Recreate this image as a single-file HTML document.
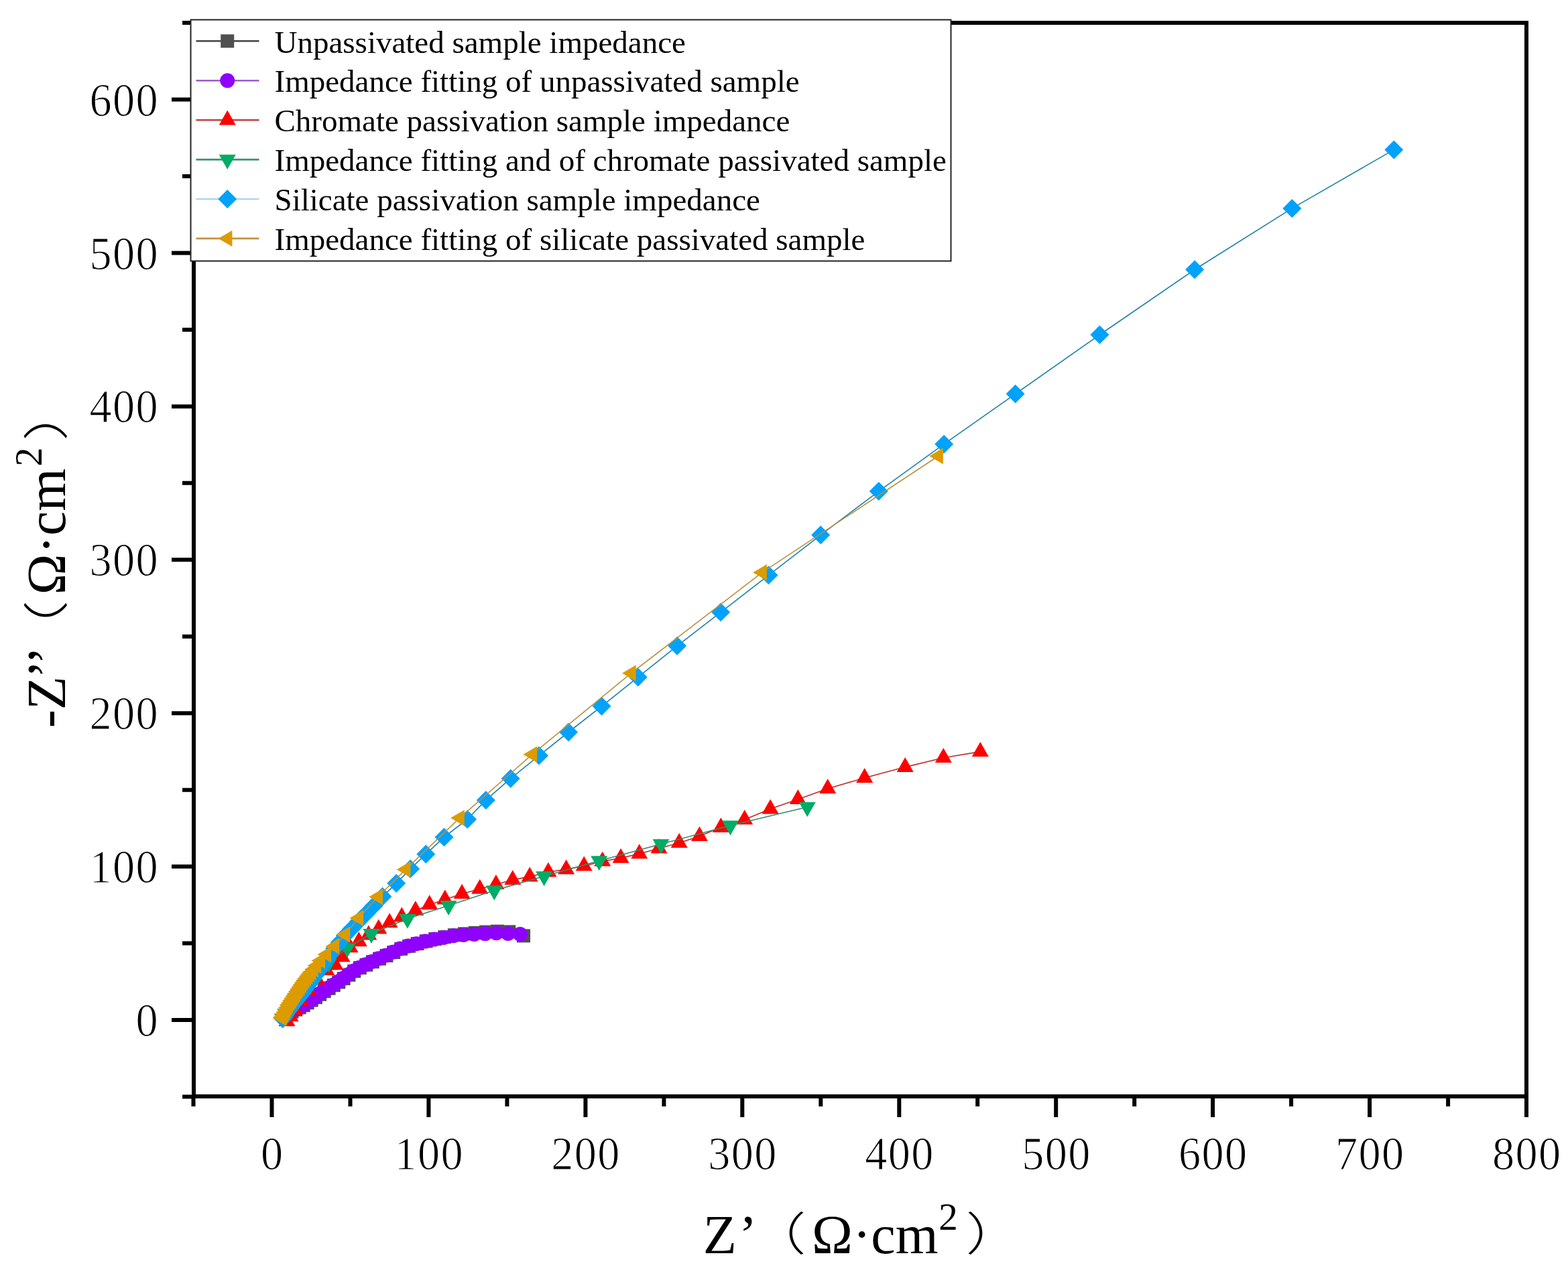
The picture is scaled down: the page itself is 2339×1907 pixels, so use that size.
<!DOCTYPE html><html><head><meta charset="utf-8"><style>html,body{margin:0;padding:0;background:#fff;}svg{display:block;}</style></head><body><svg width="2339" height="1907" viewBox="0 0 2339 1907">
<rect width="2339" height="1907" fill="#ffffff"/>
<g>
<path d="M781.0 1396.4L759.3 1390.4L741.9 1389.7L725.1 1390.6L708.8 1392.0L693.0 1393.4L677.8 1395.3L663.2 1398.2L649.1 1401.1L635.6 1404.4L622.6 1408.1L610.1 1411.8L598.2 1415.9L587.2 1421.1L576.5 1426.0L566.0 1430.6L555.9 1435.2L546.3 1439.8L536.9 1444.2L528.3 1449.2L520.4 1454.8L512.7 1460.2L505.3 1465.5L497.8 1470.2L490.6 1474.8L483.7 1479.2L477.2 1483.8L470.9 1488.3L464.7 1492.5L458.6 1496.4L452.7 1500.2L446.7 1503.4L441.0 1506.6L435.4 1509.7L430.2 1512.9L425.7 1516.2" fill="none" stroke="#404040" stroke-width="1.6" stroke-linejoin="round"/>
<rect x="771.0" y="1386.4" width="20" height="20" fill="#505050"/>
<rect x="749.3" y="1380.4" width="20" height="20" fill="#505050"/>
<rect x="731.9" y="1379.7" width="20" height="20" fill="#505050"/>
<rect x="715.1" y="1380.6" width="20" height="20" fill="#505050"/>
<rect x="698.8" y="1382.0" width="20" height="20" fill="#505050"/>
<rect x="683.0" y="1383.4" width="20" height="20" fill="#505050"/>
<rect x="667.8" y="1385.3" width="20" height="20" fill="#505050"/>
<rect x="653.2" y="1388.2" width="20" height="20" fill="#505050"/>
<rect x="639.1" y="1391.1" width="20" height="20" fill="#505050"/>
<rect x="625.6" y="1394.4" width="20" height="20" fill="#505050"/>
<rect x="612.6" y="1398.1" width="20" height="20" fill="#505050"/>
<rect x="600.1" y="1401.8" width="20" height="20" fill="#505050"/>
<rect x="588.2" y="1405.9" width="20" height="20" fill="#505050"/>
<rect x="577.2" y="1411.1" width="20" height="20" fill="#505050"/>
<rect x="566.5" y="1416.0" width="20" height="20" fill="#505050"/>
<rect x="556.0" y="1420.6" width="20" height="20" fill="#505050"/>
<rect x="545.9" y="1425.2" width="20" height="20" fill="#505050"/>
<rect x="536.3" y="1429.8" width="20" height="20" fill="#505050"/>
<rect x="526.9" y="1434.2" width="20" height="20" fill="#505050"/>
<rect x="518.3" y="1439.2" width="20" height="20" fill="#505050"/>
<rect x="510.4" y="1444.8" width="20" height="20" fill="#505050"/>
<rect x="502.7" y="1450.2" width="20" height="20" fill="#505050"/>
<rect x="495.3" y="1455.5" width="20" height="20" fill="#505050"/>
<rect x="487.8" y="1460.2" width="20" height="20" fill="#505050"/>
<rect x="480.6" y="1464.8" width="20" height="20" fill="#505050"/>
<rect x="473.7" y="1469.2" width="20" height="20" fill="#505050"/>
<rect x="467.2" y="1473.8" width="20" height="20" fill="#505050"/>
<rect x="460.9" y="1478.3" width="20" height="20" fill="#505050"/>
<rect x="454.7" y="1482.5" width="20" height="20" fill="#505050"/>
<rect x="448.6" y="1486.4" width="20" height="20" fill="#505050"/>
<rect x="442.7" y="1490.2" width="20" height="20" fill="#505050"/>
<rect x="436.7" y="1493.4" width="20" height="20" fill="#505050"/>
<rect x="431.0" y="1496.6" width="20" height="20" fill="#505050"/>
<rect x="425.4" y="1499.7" width="20" height="20" fill="#505050"/>
<rect x="420.2" y="1502.9" width="20" height="20" fill="#505050"/>
<rect x="415.7" y="1506.2" width="20" height="20" fill="#505050"/>
<path d="M775.8 1394.0L757.8 1392.9L740.4 1392.2L723.6 1393.1L707.3 1394.0L691.5 1394.9L676.3 1396.2L661.7 1398.9L647.6 1401.6L634.1 1404.6L621.1 1408.2L608.6 1411.6L596.7 1415.6L585.7 1420.8L575.0 1425.7L564.5 1430.3L554.4 1434.9L544.8 1439.5L535.4 1443.9L526.8 1448.9L518.9 1454.5L511.2 1459.9L503.8 1465.2L496.3 1469.9L489.1 1474.5L482.2 1478.9L475.7 1483.5L469.4 1488.0L463.2 1492.2L457.1 1496.1L451.2 1499.9L445.2 1503.1L439.5 1506.3L433.9 1509.4L428.7 1512.6L424.2 1515.9" fill="none" stroke="#8a4ccc" stroke-width="1.6" stroke-linejoin="round"/>
<circle cx="775.8" cy="1394.0" r="11" fill="#9000ff"/>
<circle cx="757.8" cy="1392.9" r="11" fill="#9000ff"/>
<circle cx="740.4" cy="1392.2" r="11" fill="#9000ff"/>
<circle cx="723.6" cy="1393.1" r="11" fill="#9000ff"/>
<circle cx="707.3" cy="1394.0" r="11" fill="#9000ff"/>
<circle cx="691.5" cy="1394.9" r="11" fill="#9000ff"/>
<circle cx="676.3" cy="1396.2" r="11" fill="#9000ff"/>
<circle cx="661.7" cy="1398.9" r="11" fill="#9000ff"/>
<circle cx="647.6" cy="1401.6" r="11" fill="#9000ff"/>
<circle cx="634.1" cy="1404.6" r="11" fill="#9000ff"/>
<circle cx="621.1" cy="1408.2" r="11" fill="#9000ff"/>
<circle cx="608.6" cy="1411.6" r="11" fill="#9000ff"/>
<circle cx="596.7" cy="1415.6" r="11" fill="#9000ff"/>
<circle cx="585.7" cy="1420.8" r="11" fill="#9000ff"/>
<circle cx="575.0" cy="1425.7" r="11" fill="#9000ff"/>
<circle cx="564.5" cy="1430.3" r="11" fill="#9000ff"/>
<circle cx="554.4" cy="1434.9" r="11" fill="#9000ff"/>
<circle cx="544.8" cy="1439.5" r="11" fill="#9000ff"/>
<circle cx="535.4" cy="1443.9" r="11" fill="#9000ff"/>
<circle cx="526.8" cy="1448.9" r="11" fill="#9000ff"/>
<circle cx="518.9" cy="1454.5" r="11" fill="#9000ff"/>
<circle cx="511.2" cy="1459.9" r="11" fill="#9000ff"/>
<circle cx="503.8" cy="1465.2" r="11" fill="#9000ff"/>
<circle cx="496.3" cy="1469.9" r="11" fill="#9000ff"/>
<circle cx="489.1" cy="1474.5" r="11" fill="#9000ff"/>
<circle cx="482.2" cy="1478.9" r="11" fill="#9000ff"/>
<circle cx="475.7" cy="1483.5" r="11" fill="#9000ff"/>
<circle cx="469.4" cy="1488.0" r="11" fill="#9000ff"/>
<circle cx="463.2" cy="1492.2" r="11" fill="#9000ff"/>
<circle cx="457.1" cy="1496.1" r="11" fill="#9000ff"/>
<circle cx="451.2" cy="1499.9" r="11" fill="#9000ff"/>
<circle cx="445.2" cy="1503.1" r="11" fill="#9000ff"/>
<circle cx="439.5" cy="1506.3" r="11" fill="#9000ff"/>
<circle cx="433.9" cy="1509.4" r="11" fill="#9000ff"/>
<circle cx="428.7" cy="1512.6" r="11" fill="#9000ff"/>
<circle cx="424.2" cy="1515.9" r="11" fill="#9000ff"/>
<path d="M1462.3 1121.6L1407.3 1130.7L1350.2 1144.6L1289.7 1160.8L1234.7 1176.7L1190.3 1192.8L1149.1 1207.1L1110.7 1223.0L1075.4 1234.6L1043.4 1247.7L1013.2 1257.8L982.9 1266.0L953.7 1274.0L926.1 1280.4L898.7 1285.3L871.2 1292.2L844.6 1297.1L817.9 1301.3L790.2 1308.1L764.8 1312.9L739.9 1319.7L715.7 1326.4L689.1 1333.7L663.8 1342.3L640.7 1349.9L619.8 1358.8L599.3 1368.1L581.1 1376.9L564.8 1386.2L549.8 1395.1L535.3 1404.9L522.0 1414.0L510.0 1428.0L500.0 1440.0L487.0 1448.0L473.0 1462.0L460.0 1478.0L449.0 1494.0L440.0 1507.0L433.0 1517.0L428.0 1524.0" fill="none" stroke="#c02a2a" stroke-width="1.6" stroke-linejoin="round"/>
<path d="M1462.3 1106.9L1474.8 1128.9L1449.8 1128.9Z" fill="#ff0000"/>
<path d="M1407.3 1116.0L1419.8 1138.0L1394.8 1138.0Z" fill="#ff0000"/>
<path d="M1350.2 1129.9L1362.7 1151.9L1337.7 1151.9Z" fill="#ff0000"/>
<path d="M1289.7 1146.1L1302.2 1168.1L1277.2 1168.1Z" fill="#ff0000"/>
<path d="M1234.7 1162.0L1247.2 1184.0L1222.2 1184.0Z" fill="#ff0000"/>
<path d="M1190.3 1178.1L1202.8 1200.1L1177.8 1200.1Z" fill="#ff0000"/>
<path d="M1149.1 1192.4L1161.6 1214.4L1136.6 1214.4Z" fill="#ff0000"/>
<path d="M1110.7 1208.3L1123.2 1230.3L1098.2 1230.3Z" fill="#ff0000"/>
<path d="M1075.4 1219.9L1087.9 1241.9L1062.9 1241.9Z" fill="#ff0000"/>
<path d="M1043.4 1233.0L1055.9 1255.0L1030.9 1255.0Z" fill="#ff0000"/>
<path d="M1013.2 1243.1L1025.7 1265.1L1000.7 1265.1Z" fill="#ff0000"/>
<path d="M982.9 1251.3L995.4 1273.3L970.4 1273.3Z" fill="#ff0000"/>
<path d="M953.7 1259.3L966.2 1281.3L941.2 1281.3Z" fill="#ff0000"/>
<path d="M926.1 1265.7L938.6 1287.7L913.6 1287.7Z" fill="#ff0000"/>
<path d="M898.7 1270.6L911.2 1292.6L886.2 1292.6Z" fill="#ff0000"/>
<path d="M871.2 1277.5L883.7 1299.5L858.7 1299.5Z" fill="#ff0000"/>
<path d="M844.6 1282.4L857.1 1304.4L832.1 1304.4Z" fill="#ff0000"/>
<path d="M817.9 1286.6L830.4 1308.6L805.4 1308.6Z" fill="#ff0000"/>
<path d="M790.2 1293.4L802.7 1315.4L777.7 1315.4Z" fill="#ff0000"/>
<path d="M764.8 1298.2L777.3 1320.2L752.3 1320.2Z" fill="#ff0000"/>
<path d="M739.9 1305.0L752.4 1327.0L727.4 1327.0Z" fill="#ff0000"/>
<path d="M715.7 1311.7L728.2 1333.7L703.2 1333.7Z" fill="#ff0000"/>
<path d="M689.1 1319.0L701.6 1341.0L676.6 1341.0Z" fill="#ff0000"/>
<path d="M663.8 1327.6L676.3 1349.6L651.3 1349.6Z" fill="#ff0000"/>
<path d="M640.7 1335.2L653.2 1357.2L628.2 1357.2Z" fill="#ff0000"/>
<path d="M619.8 1344.1L632.3 1366.1L607.3 1366.1Z" fill="#ff0000"/>
<path d="M599.3 1353.4L611.8 1375.4L586.8 1375.4Z" fill="#ff0000"/>
<path d="M581.1 1362.2L593.6 1384.2L568.6 1384.2Z" fill="#ff0000"/>
<path d="M564.8 1371.5L577.3 1393.5L552.3 1393.5Z" fill="#ff0000"/>
<path d="M549.8 1380.4L562.3 1402.4L537.3 1402.4Z" fill="#ff0000"/>
<path d="M535.3 1390.2L547.8 1412.2L522.8 1412.2Z" fill="#ff0000"/>
<path d="M522.0 1399.3L534.5 1421.3L509.5 1421.3Z" fill="#ff0000"/>
<path d="M510.0 1413.3L522.5 1435.3L497.5 1435.3Z" fill="#ff0000"/>
<path d="M500.0 1425.3L512.5 1447.3L487.5 1447.3Z" fill="#ff0000"/>
<path d="M487.0 1433.3L499.5 1455.3L474.5 1455.3Z" fill="#ff0000"/>
<path d="M473.0 1447.3L485.5 1469.3L460.5 1469.3Z" fill="#ff0000"/>
<path d="M460.0 1463.3L472.5 1485.3L447.5 1485.3Z" fill="#ff0000"/>
<path d="M449.0 1479.3L461.5 1501.3L436.5 1501.3Z" fill="#ff0000"/>
<path d="M440.0 1492.3L452.5 1514.3L427.5 1514.3Z" fill="#ff0000"/>
<path d="M433.0 1502.3L445.5 1524.3L420.5 1524.3Z" fill="#ff0000"/>
<path d="M428.0 1509.3L440.5 1531.3L415.5 1531.3Z" fill="#ff0000"/>
<path d="M1204.2 1204.3L1089.5 1231.8L986.0 1259.6L893.7 1284.5L811.6 1307.6L737.3 1328.7L669.1 1351.3L607.8 1371.1L553.9 1393.3L518.0 1414.5L490.4 1437.1L468.8 1458.9L451.9 1479.2L437.7 1497.1L425.7 1512.5L421.1 1519.9" fill="none" stroke="#358a6c" stroke-width="1.6" stroke-linejoin="round"/>
<path d="M1204.2 1219.0L1216.7 1197.0L1191.7 1197.0Z" fill="#00ac66"/>
<path d="M1089.5 1246.5L1102.0 1224.5L1077.0 1224.5Z" fill="#00ac66"/>
<path d="M986.0 1274.3L998.5 1252.3L973.5 1252.3Z" fill="#00ac66"/>
<path d="M893.7 1299.2L906.2 1277.2L881.2 1277.2Z" fill="#00ac66"/>
<path d="M811.6 1322.3L824.1 1300.3L799.1 1300.3Z" fill="#00ac66"/>
<path d="M737.3 1343.4L749.8 1321.4L724.8 1321.4Z" fill="#00ac66"/>
<path d="M669.1 1366.0L681.6 1344.0L656.6 1344.0Z" fill="#00ac66"/>
<path d="M607.8 1385.8L620.3 1363.8L595.3 1363.8Z" fill="#00ac66"/>
<path d="M553.9 1408.0L566.4 1386.0L541.4 1386.0Z" fill="#00ac66"/>
<path d="M518.0 1429.2L530.5 1407.2L505.5 1407.2Z" fill="#00ac66"/>
<path d="M490.4 1451.8L502.9 1429.8L477.9 1429.8Z" fill="#00ac66"/>
<path d="M468.8 1473.6L481.3 1451.6L456.3 1451.6Z" fill="#00ac66"/>
<path d="M451.9 1493.9L464.4 1471.9L439.4 1471.9Z" fill="#00ac66"/>
<path d="M437.7 1511.8L450.2 1489.8L425.2 1489.8Z" fill="#00ac66"/>
<path d="M425.7 1527.2L438.2 1505.2L413.2 1505.2Z" fill="#00ac66"/>
<path d="M421.1 1534.6L433.6 1512.6L408.6 1512.6Z" fill="#00ac66"/>
<path d="M2079.3 223.4L1927.4 310.9L1782.1 402.3L1640.4 499.5L1514.6 587.8L1408.2 662.7L1310.8 733.1L1224.2 798.3L1146.5 858.3L1075.1 913.6L1010.1 963.8L951.8 1010.4L897.5 1053.8L848.0 1092.5L804.0 1127.6L761.7 1161.7L724.8 1193.9L697.1 1222.5L662.5 1249.2L635.3 1274.6L612.2 1296.4L591.2 1318.1L570.5 1337.8L557.7 1351.4L545.8 1363.8L534.7 1375.3L524.4 1386.0L514.9 1396.1L506.8 1406.1L499.2 1415.3L492.6 1424.3L486.6 1432.7L481.0 1440.6L475.8 1447.9L471.0 1454.6L466.5 1460.9L462.2 1466.7L458.2 1472.1L454.4 1477.1L451.0 1481.7L447.6 1485.9L444.4 1489.8L441.5 1493.4L438.7 1496.7L436.1 1499.8L433.9 1502.8L431.8 1505.6L429.8 1508.2L428.0 1510.6L426.3 1513.1L424.7 1515.6L423.1 1518.2L422.1 1519.9" fill="none" stroke="#1f80aa" stroke-width="1.6" stroke-linejoin="round"/>
<path d="M2079.3 209.4L2093.3 223.4L2079.3 237.4L2065.3 223.4Z" fill="#00a2fc"/>
<path d="M1927.4 296.9L1941.4 310.9L1927.4 324.9L1913.4 310.9Z" fill="#00a2fc"/>
<path d="M1782.1 388.3L1796.1 402.3L1782.1 416.3L1768.1 402.3Z" fill="#00a2fc"/>
<path d="M1640.4 485.5L1654.4 499.5L1640.4 513.5L1626.4 499.5Z" fill="#00a2fc"/>
<path d="M1514.6 573.8L1528.6 587.8L1514.6 601.8L1500.6 587.8Z" fill="#00a2fc"/>
<path d="M1408.2 648.7L1422.2 662.7L1408.2 676.7L1394.2 662.7Z" fill="#00a2fc"/>
<path d="M1310.8 719.1L1324.8 733.1L1310.8 747.1L1296.8 733.1Z" fill="#00a2fc"/>
<path d="M1224.2 784.3L1238.2 798.3L1224.2 812.3L1210.2 798.3Z" fill="#00a2fc"/>
<path d="M1146.5 844.3L1160.5 858.3L1146.5 872.3L1132.5 858.3Z" fill="#00a2fc"/>
<path d="M1075.1 899.6L1089.1 913.6L1075.1 927.6L1061.1 913.6Z" fill="#00a2fc"/>
<path d="M1010.1 949.8L1024.1 963.8L1010.1 977.8L996.1 963.8Z" fill="#00a2fc"/>
<path d="M951.8 996.4L965.8 1010.4L951.8 1024.4L937.8 1010.4Z" fill="#00a2fc"/>
<path d="M897.5 1039.8L911.5 1053.8L897.5 1067.8L883.5 1053.8Z" fill="#00a2fc"/>
<path d="M848.0 1078.5L862.0 1092.5L848.0 1106.5L834.0 1092.5Z" fill="#00a2fc"/>
<path d="M804.0 1113.6L818.0 1127.6L804.0 1141.6L790.0 1127.6Z" fill="#00a2fc"/>
<path d="M761.7 1147.7L775.7 1161.7L761.7 1175.7L747.7 1161.7Z" fill="#00a2fc"/>
<path d="M724.8 1179.9L738.8 1193.9L724.8 1207.9L710.8 1193.9Z" fill="#00a2fc"/>
<path d="M697.1 1208.5L711.1 1222.5L697.1 1236.5L683.1 1222.5Z" fill="#00a2fc"/>
<path d="M662.5 1235.2L676.5 1249.2L662.5 1263.2L648.5 1249.2Z" fill="#00a2fc"/>
<path d="M635.3 1260.6L649.3 1274.6L635.3 1288.6L621.3 1274.6Z" fill="#00a2fc"/>
<path d="M612.2 1282.4L626.2 1296.4L612.2 1310.4L598.2 1296.4Z" fill="#00a2fc"/>
<path d="M591.2 1304.1L605.2 1318.1L591.2 1332.1L577.2 1318.1Z" fill="#00a2fc"/>
<path d="M570.5 1323.8L584.5 1337.8L570.5 1351.8L556.5 1337.8Z" fill="#00a2fc"/>
<path d="M557.7 1337.4L571.7 1351.4L557.7 1365.4L543.7 1351.4Z" fill="#00a2fc"/>
<path d="M545.8 1349.8L559.8 1363.8L545.8 1377.8L531.8 1363.8Z" fill="#00a2fc"/>
<path d="M534.7 1361.3L548.7 1375.3L534.7 1389.3L520.7 1375.3Z" fill="#00a2fc"/>
<path d="M524.4 1372.0L538.4 1386.0L524.4 1400.0L510.4 1386.0Z" fill="#00a2fc"/>
<path d="M514.9 1382.1L528.9 1396.1L514.9 1410.1L500.9 1396.1Z" fill="#00a2fc"/>
<path d="M506.8 1392.1L520.8 1406.1L506.8 1420.1L492.8 1406.1Z" fill="#00a2fc"/>
<path d="M499.2 1401.3L513.2 1415.3L499.2 1429.3L485.2 1415.3Z" fill="#00a2fc"/>
<path d="M492.6 1410.3L506.6 1424.3L492.6 1438.3L478.6 1424.3Z" fill="#00a2fc"/>
<path d="M486.6 1418.7L500.6 1432.7L486.6 1446.7L472.6 1432.7Z" fill="#00a2fc"/>
<path d="M481.0 1426.6L495.0 1440.6L481.0 1454.6L467.0 1440.6Z" fill="#00a2fc"/>
<path d="M475.8 1433.9L489.8 1447.9L475.8 1461.9L461.8 1447.9Z" fill="#00a2fc"/>
<path d="M471.0 1440.6L485.0 1454.6L471.0 1468.6L457.0 1454.6Z" fill="#00a2fc"/>
<path d="M466.5 1446.9L480.5 1460.9L466.5 1474.9L452.5 1460.9Z" fill="#00a2fc"/>
<path d="M462.2 1452.7L476.2 1466.7L462.2 1480.7L448.2 1466.7Z" fill="#00a2fc"/>
<path d="M458.2 1458.1L472.2 1472.1L458.2 1486.1L444.2 1472.1Z" fill="#00a2fc"/>
<path d="M454.4 1463.1L468.4 1477.1L454.4 1491.1L440.4 1477.1Z" fill="#00a2fc"/>
<path d="M451.0 1467.7L465.0 1481.7L451.0 1495.7L437.0 1481.7Z" fill="#00a2fc"/>
<path d="M447.6 1471.9L461.6 1485.9L447.6 1499.9L433.6 1485.9Z" fill="#00a2fc"/>
<path d="M444.4 1475.8L458.4 1489.8L444.4 1503.8L430.4 1489.8Z" fill="#00a2fc"/>
<path d="M441.5 1479.4L455.5 1493.4L441.5 1507.4L427.5 1493.4Z" fill="#00a2fc"/>
<path d="M438.7 1482.7L452.7 1496.7L438.7 1510.7L424.7 1496.7Z" fill="#00a2fc"/>
<path d="M436.1 1485.8L450.1 1499.8L436.1 1513.8L422.1 1499.8Z" fill="#00a2fc"/>
<path d="M433.9 1488.8L447.9 1502.8L433.9 1516.8L419.9 1502.8Z" fill="#00a2fc"/>
<path d="M431.8 1491.6L445.8 1505.6L431.8 1519.6L417.8 1505.6Z" fill="#00a2fc"/>
<path d="M429.8 1494.2L443.8 1508.2L429.8 1522.2L415.8 1508.2Z" fill="#00a2fc"/>
<path d="M428.0 1496.6L442.0 1510.6L428.0 1524.6L414.0 1510.6Z" fill="#00a2fc"/>
<path d="M426.3 1499.1L440.3 1513.1L426.3 1527.1L412.3 1513.1Z" fill="#00a2fc"/>
<path d="M424.7 1501.6L438.7 1515.6L424.7 1529.6L410.7 1515.6Z" fill="#00a2fc"/>
<path d="M423.1 1504.2L437.1 1518.2L423.1 1532.2L409.1 1518.2Z" fill="#00a2fc"/>
<path d="M422.1 1505.9L436.1 1519.9L422.1 1533.9L408.1 1519.9Z" fill="#00a2fc"/>
<path d="M1399.7 680.5L1136.7 854.3L941.5 1004.5L794.0 1125.7L685.6 1220.6L605.2 1297.4L563.8 1338.3L534.9 1369.9L515.0 1394.6L499.0 1411.9L486.9 1424.3L477.9 1433.6L471.9 1440.9L467.5 1446.4L464.2 1450.5L461.7 1453.6L459.2 1456.7L456.7 1459.9L454.3 1463.0L452.1 1466.4L449.8 1469.7L447.6 1473.0L445.4 1476.3L443.2 1479.6L440.9 1483.0L438.8 1486.3L436.6 1489.7L434.4 1493.1L432.3 1496.4L430.1 1499.8L428.3 1503.4L426.5 1506.9L424.7 1510.5L422.8 1514.0L420.9 1517.5L420.1 1518.9" fill="none" stroke="#b89040" stroke-width="1.6" stroke-linejoin="round"/>
<path d="M1386.2 680.5L1406.9 668.3L1406.9 692.7Z" fill="#dc9c00"/>
<path d="M1123.2 854.3L1143.9 842.1L1143.9 866.5Z" fill="#dc9c00"/>
<path d="M928.0 1004.5L948.7 992.3L948.7 1016.7Z" fill="#dc9c00"/>
<path d="M780.5 1125.7L801.2 1113.5L801.2 1137.9Z" fill="#dc9c00"/>
<path d="M672.1 1220.6L692.8 1208.4L692.8 1232.8Z" fill="#dc9c00"/>
<path d="M591.7 1297.4L612.4 1285.2L612.4 1309.6Z" fill="#dc9c00"/>
<path d="M550.3 1338.3L571.0 1326.1L571.0 1350.5Z" fill="#dc9c00"/>
<path d="M521.4 1369.9L542.1 1357.7L542.1 1382.1Z" fill="#dc9c00"/>
<path d="M501.5 1394.6L522.2 1382.4L522.2 1406.8Z" fill="#dc9c00"/>
<path d="M485.5 1411.9L506.2 1399.7L506.2 1424.1Z" fill="#dc9c00"/>
<path d="M473.4 1424.3L494.1 1412.1L494.1 1436.5Z" fill="#dc9c00"/>
<path d="M464.4 1433.6L485.1 1421.4L485.1 1445.8Z" fill="#dc9c00"/>
<path d="M458.4 1440.9L479.1 1428.7L479.1 1453.1Z" fill="#dc9c00"/>
<path d="M454.0 1446.4L474.7 1434.2L474.7 1458.6Z" fill="#dc9c00"/>
<path d="M450.7 1450.5L471.4 1438.3L471.4 1462.7Z" fill="#dc9c00"/>
<path d="M448.2 1453.6L468.9 1441.4L468.9 1465.8Z" fill="#dc9c00"/>
<path d="M445.7 1456.7L466.4 1444.5L466.4 1468.9Z" fill="#dc9c00"/>
<path d="M443.2 1459.9L463.9 1447.7L463.9 1472.1Z" fill="#dc9c00"/>
<path d="M440.8 1463.0L461.5 1450.8L461.5 1475.2Z" fill="#dc9c00"/>
<path d="M438.6 1466.4L459.3 1454.2L459.3 1478.6Z" fill="#dc9c00"/>
<path d="M436.3 1469.7L457.0 1457.5L457.0 1481.9Z" fill="#dc9c00"/>
<path d="M434.1 1473.0L454.8 1460.8L454.8 1485.2Z" fill="#dc9c00"/>
<path d="M431.9 1476.3L452.6 1464.1L452.6 1488.5Z" fill="#dc9c00"/>
<path d="M429.7 1479.6L450.4 1467.4L450.4 1491.8Z" fill="#dc9c00"/>
<path d="M427.4 1483.0L448.1 1470.8L448.1 1495.2Z" fill="#dc9c00"/>
<path d="M425.3 1486.3L446.0 1474.1L446.0 1498.5Z" fill="#dc9c00"/>
<path d="M423.1 1489.7L443.8 1477.5L443.8 1501.9Z" fill="#dc9c00"/>
<path d="M420.9 1493.1L441.6 1480.9L441.6 1505.3Z" fill="#dc9c00"/>
<path d="M418.8 1496.4L439.5 1484.2L439.5 1508.6Z" fill="#dc9c00"/>
<path d="M416.6 1499.8L437.3 1487.6L437.3 1512.0Z" fill="#dc9c00"/>
<path d="M414.8 1503.4L435.5 1491.2L435.5 1515.6Z" fill="#dc9c00"/>
<path d="M413.0 1506.9L433.7 1494.7L433.7 1519.1Z" fill="#dc9c00"/>
<path d="M411.2 1510.5L431.9 1498.3L431.9 1522.7Z" fill="#dc9c00"/>
<path d="M409.3 1514.0L430.0 1501.8L430.0 1526.2Z" fill="#dc9c00"/>
<path d="M407.4 1517.5L428.1 1505.3L428.1 1529.7Z" fill="#dc9c00"/>
<path d="M406.6 1518.9L427.3 1506.7L427.3 1531.1Z" fill="#dc9c00"/>
</g>
<g stroke="#000" stroke-width="6" fill="none">
<rect x="289" y="34" width="1988" height="1602"/>
<path d="M272 1636.5H289M256 1522.0H289M272 1407.5H289M256 1293.1H289M272 1178.7H289M256 1064.2H289M272 949.8H289M256 835.3H289M272 720.8H289M256 606.4H289M272 492.0H289M256 377.5H289M272 263.0H289M256 148.6H289M272 34.1H289M288.5 1636V1651M405.5 1636V1667M522.5 1636V1651M639.4 1636V1667M756.4 1636V1651M873.4 1636V1667M990.4 1636V1651M1107.3 1636V1667M1224.3 1636V1651M1341.3 1636V1667M1458.2 1636V1651M1575.2 1636V1667M1692.2 1636V1651M1809.1 1636V1667M1926.1 1636V1651M2043.1 1636V1667M2160.1 1636V1651M2277.0 1636V1667" stroke-linecap="butt"/>
</g>
<g font-family="Liberation Serif, Times New Roman, serif" font-size="69" fill="#000" stroke="#fff" stroke-width="1.1">
<text transform="translate(218.95 1546.00) scale(0.96 1)" x="0" y="0" text-anchor="middle">0</text>
<text transform="translate(149.95 1317.10) scale(0.96 1)" x="0" y="0" text-anchor="middle">1</text><text transform="translate(184.45 1317.10) scale(0.96 1)" x="0" y="0" text-anchor="middle">0</text><text transform="translate(218.95 1317.10) scale(0.96 1)" x="0" y="0" text-anchor="middle">0</text>
<text transform="translate(149.95 1088.20) scale(0.96 1)" x="0" y="0" text-anchor="middle">2</text><text transform="translate(184.45 1088.20) scale(0.96 1)" x="0" y="0" text-anchor="middle">0</text><text transform="translate(218.95 1088.20) scale(0.96 1)" x="0" y="0" text-anchor="middle">0</text>
<text transform="translate(149.95 859.30) scale(0.96 1)" x="0" y="0" text-anchor="middle">3</text><text transform="translate(184.45 859.30) scale(0.96 1)" x="0" y="0" text-anchor="middle">0</text><text transform="translate(218.95 859.30) scale(0.96 1)" x="0" y="0" text-anchor="middle">0</text>
<text transform="translate(149.95 630.40) scale(0.96 1)" x="0" y="0" text-anchor="middle">4</text><text transform="translate(184.45 630.40) scale(0.96 1)" x="0" y="0" text-anchor="middle">0</text><text transform="translate(218.95 630.40) scale(0.96 1)" x="0" y="0" text-anchor="middle">0</text>
<text transform="translate(149.95 401.50) scale(0.96 1)" x="0" y="0" text-anchor="middle">5</text><text transform="translate(184.45 401.50) scale(0.96 1)" x="0" y="0" text-anchor="middle">0</text><text transform="translate(218.95 401.50) scale(0.96 1)" x="0" y="0" text-anchor="middle">0</text>
<text transform="translate(149.95 172.60) scale(0.96 1)" x="0" y="0" text-anchor="middle">6</text><text transform="translate(184.45 172.60) scale(0.96 1)" x="0" y="0" text-anchor="middle">0</text><text transform="translate(218.95 172.60) scale(0.96 1)" x="0" y="0" text-anchor="middle">0</text>
<text transform="translate(405.50 1744.50) scale(0.96 1)" x="0" y="0" text-anchor="middle">0</text>
<text transform="translate(604.94 1744.50) scale(0.96 1)" x="0" y="0" text-anchor="middle">1</text><text transform="translate(639.44 1744.50) scale(0.96 1)" x="0" y="0" text-anchor="middle">0</text><text transform="translate(673.94 1744.50) scale(0.96 1)" x="0" y="0" text-anchor="middle">0</text>
<text transform="translate(838.88 1744.50) scale(0.96 1)" x="0" y="0" text-anchor="middle">2</text><text transform="translate(873.38 1744.50) scale(0.96 1)" x="0" y="0" text-anchor="middle">0</text><text transform="translate(907.88 1744.50) scale(0.96 1)" x="0" y="0" text-anchor="middle">0</text>
<text transform="translate(1072.82 1744.50) scale(0.96 1)" x="0" y="0" text-anchor="middle">3</text><text transform="translate(1107.32 1744.50) scale(0.96 1)" x="0" y="0" text-anchor="middle">0</text><text transform="translate(1141.82 1744.50) scale(0.96 1)" x="0" y="0" text-anchor="middle">0</text>
<text transform="translate(1306.76 1744.50) scale(0.96 1)" x="0" y="0" text-anchor="middle">4</text><text transform="translate(1341.26 1744.50) scale(0.96 1)" x="0" y="0" text-anchor="middle">0</text><text transform="translate(1375.76 1744.50) scale(0.96 1)" x="0" y="0" text-anchor="middle">0</text>
<text transform="translate(1540.70 1744.50) scale(0.96 1)" x="0" y="0" text-anchor="middle">5</text><text transform="translate(1575.20 1744.50) scale(0.96 1)" x="0" y="0" text-anchor="middle">0</text><text transform="translate(1609.70 1744.50) scale(0.96 1)" x="0" y="0" text-anchor="middle">0</text>
<text transform="translate(1774.64 1744.50) scale(0.96 1)" x="0" y="0" text-anchor="middle">6</text><text transform="translate(1809.14 1744.50) scale(0.96 1)" x="0" y="0" text-anchor="middle">0</text><text transform="translate(1843.64 1744.50) scale(0.96 1)" x="0" y="0" text-anchor="middle">0</text>
<text transform="translate(2008.58 1744.50) scale(0.96 1)" x="0" y="0" text-anchor="middle">7</text><text transform="translate(2043.08 1744.50) scale(0.96 1)" x="0" y="0" text-anchor="middle">0</text><text transform="translate(2077.58 1744.50) scale(0.96 1)" x="0" y="0" text-anchor="middle">0</text>
<text transform="translate(2242.52 1744.50) scale(0.96 1)" x="0" y="0" text-anchor="middle">8</text><text transform="translate(2277.02 1744.50) scale(0.96 1)" x="0" y="0" text-anchor="middle">0</text><text transform="translate(2311.52 1744.50) scale(0.96 1)" x="0" y="0" text-anchor="middle">0</text>
</g>
<g fill="#000">
<text x="1048.7" y="1869.8" font-family="Liberation Serif, Times New Roman, serif" font-size="82">Z</text>
<text x="1102" y="1869.8" font-family="Liberation Serif, Times New Roman, serif" font-size="82">’</text>
<text transform="translate(1115.6 1866.3999999999999) scale(1.28 1)" font-family="Liberation Serif, Noto Sans CJK SC, sans-serif" font-weight="300" font-size="68">（</text>
<text x="1211" y="1869.8" font-family="Liberation Serif, Times New Roman, serif" font-size="82">Ω·cm</text>
<text x="1400.3" y="1835.4" font-family="Liberation Serif, Times New Roman, serif" font-size="57">2</text>
<text transform="translate(1440.6 1866.3999999999999) scale(1.28 1)" font-family="Liberation Serif, Noto Sans CJK SC, sans-serif" font-weight="300" font-size="68">）</text>
</g>
<g fill="#000" transform="translate(96.8 0) rotate(-90)">
<text x="-1086.3" y="0" font-family="Liberation Serif, Times New Roman, serif" font-size="82">-</text>
<text x="-1059.2" y="0" font-family="Liberation Serif, Times New Roman, serif" font-size="82">Z</text>
<text x="-1012.6" y="0" font-family="Liberation Serif, Times New Roman, serif" font-size="82">’</text>
<text x="-992" y="0" font-family="Liberation Serif, Times New Roman, serif" font-size="82">’</text>
<text transform="translate(-982.7 -3.2) scale(1.28 1)" font-family="Liberation Serif, Noto Sans CJK SC, sans-serif" font-weight="300" font-size="68">（</text>
<text x="-887.5" y="0" font-family="Liberation Serif, Times New Roman, serif" font-size="82">Ω·cm</text>
<text x="-696" y="-34.8" font-family="Liberation Serif, Times New Roman, serif" font-size="57">2</text>
<text transform="translate(-657.9 -3.2) scale(1.28 1)" font-family="Liberation Serif, Noto Sans CJK SC, sans-serif" font-weight="300" font-size="68">）</text>
</g>
<rect x="284.5" y="29.5" width="1134" height="360" fill="#ffffff" stroke="#222" stroke-width="2"/>
<path d="M292.5 61.3H386.5" stroke="#444444" stroke-width="2.6"/>
<rect x="329.2" y="51.3" width="20" height="20" fill="#505050"/>
<text x="409.5" y="78.5" font-family="Liberation Serif, Times New Roman, serif" font-size="47" fill="#000">Unpassivated sample impedance</text>
<path d="M292.5 120.2H386.5" stroke="#9a5ccc" stroke-width="2.6"/>
<circle cx="339.2" cy="120.2" r="11" fill="#9000ff"/>
<text x="409.5" y="137.4" font-family="Liberation Serif, Times New Roman, serif" font-size="47" fill="#000">Impedance fitting of unpassivated sample</text>
<path d="M292.5 179.1H386.5" stroke="#c24a4a" stroke-width="2.6"/>
<path d="M339.2 164.4L351.7 186.4L326.7 186.4Z" fill="#ff0000"/>
<text x="409.5" y="196.3" font-family="Liberation Serif, Times New Roman, serif" font-size="47" fill="#000">Chromate passivation sample impedance</text>
<path d="M292.5 238.1H386.5" stroke="#3a9070" stroke-width="2.6"/>
<path d="M339.2 252.8L351.7 230.8L326.7 230.8Z" fill="#00ac66"/>
<text x="409.5" y="255.3" font-family="Liberation Serif, Times New Roman, serif" font-size="47" fill="#000">Impedance fitting and of chromate passivated sample</text>
<path d="M292.5 297.0H386.5" stroke="#aad6f2" stroke-width="2.6"/>
<path d="M339.2 283.0L353.2 297.0L339.2 311.0L325.2 297.0Z" fill="#00a2fc"/>
<text x="409.5" y="314.2" font-family="Liberation Serif, Times New Roman, serif" font-size="47" fill="#000">Silicate passivation sample impedance</text>
<path d="M292.5 355.9H386.5" stroke="#c49040" stroke-width="2.6"/>
<path d="M325.7 355.9L346.4 343.7L346.4 368.1Z" fill="#dc9c00"/>
<text x="409.5" y="373.1" font-family="Liberation Serif, Times New Roman, serif" font-size="47" fill="#000">Impedance fitting of silicate passivated sample</text>
</svg></body></html>
